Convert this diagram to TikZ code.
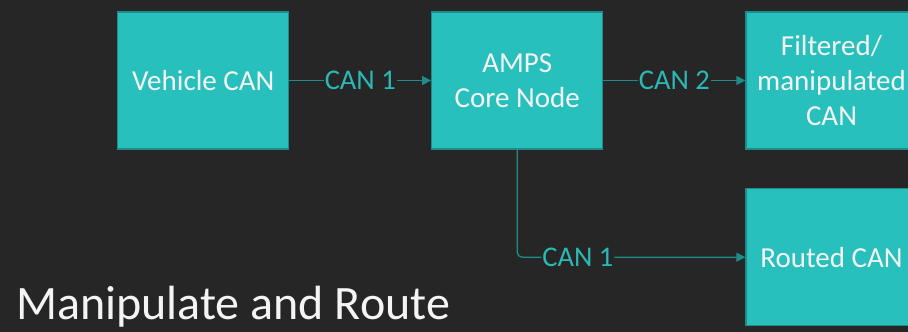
\documentclass[tikz,border=0pt]{standalone}
\usepackage{fontspec}
\setmainfont{Carlito}
\usetikzlibrary{arrows.meta}
\definecolor{bg}{HTML}{262626}
\definecolor{boxfill}{HTML}{27C0BC}
\definecolor{boxline}{HTML}{1E8C89}
\definecolor{lbl}{HTML}{2AB9B5}
\definecolor{txt}{HTML}{F4F4F4}
\tikzset{
  blockbox/.style={draw=boxline, line width=1.2pt, fill=boxfill, minimum width=171pt, minimum height=137pt, inner sep=0pt, align=center, text=txt, font=\fontsize{29}{35}\selectfont},
  conn/.style={draw=boxline, line width=1.3pt, -{Triangle[length=9pt,width=9pt]}},
  lab/.style={fill=bg, text=lbl, inner sep=1pt, font=\fontsize{28.5}{34}\selectfont}
}
\begin{document}
\begin{tikzpicture}[x=1pt,y=-1pt]
\useasboundingbox (0,0) rectangle (908,332);
\fill[bg] (0,0) rectangle (908,332);
\clip (0,0) rectangle (908,332);
\node[blockbox] (veh) at (203.3,80.5) {Vehicle CAN};
\node[blockbox] (amps) at (517.2,80.5) {AMPS\\Core Node};
\node[blockbox] (filt) at (831.5,80.5) {Filtered/\\manipulated\\CAN};
\node[blockbox] (rout) at (831.5,257.2) {Routed CAN};
\draw[conn] (veh.east) -- node[lab] (l1) {CAN 1} (amps.west);
\draw[conn] (amps.east) -- node[lab] (l2) {CAN 2} (filt.west);
\draw[conn, rounded corners=5pt] (amps.south) |- node[lab, pos=0.633] (l3) {CAN 1} (rout.west);
\node[anchor=base west, text=txt, font=\fontsize{48}{58}\selectfont, inner sep=0pt] (title) at (16,319) {Manipulate and Route};
\end{tikzpicture}
\end{document}
